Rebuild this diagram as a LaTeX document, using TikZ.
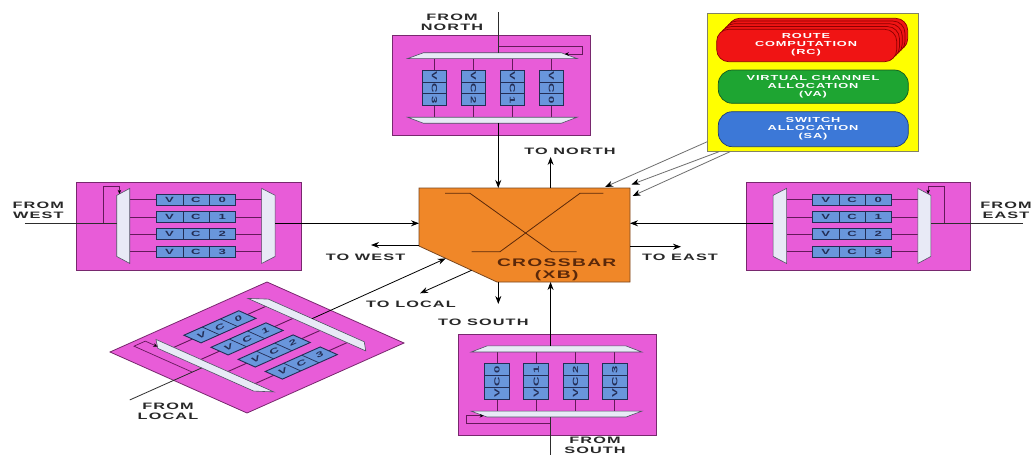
\documentclass[tikz,border=0pt]{standalone}
\usepackage{fontspec}
\usetikzlibrary{arrows.meta}
\newfontfamily\lblfont{Liberation Sans}[FakeStretch=1.75,LetterSpace=12]
\definecolor{pinkfill}{RGB}{232,92,216}
\definecolor{pinkedge}{RGB}{120,40,110}
\definecolor{rowcol}{RGB}{100,25,90}
\definecolor{vcfill}{RGB}{105,150,220}
\definecolor{vcedge}{RGB}{35,45,85}
\definecolor{muxfill}{RGB}{232,234,246}
\definecolor{muxedge}{RGB}{80,80,100}
\definecolor{mainc}{RGB}{45,45,45}
\definecolor{lblcol}{RGB}{40,40,40}
\definecolor{xbfill}{RGB}{240,135,40}
\definecolor{xbedge}{RGB}{120,70,30}
\definecolor{xbtext}{RGB}{90,40,10}
\definecolor{ybox}{RGB}{255,255,0}
\definecolor{yedge}{RGB}{130,130,100}
\definecolor{rcfill}{RGB}{240,20,20}
\definecolor{rcedge}{RGB}{140,0,0}
\definecolor{vafill}{RGB}{30,165,50}
\definecolor{vaedge}{RGB}{20,90,30}
\definecolor{safill}{RGB}{60,120,215}
\definecolor{saedge}{RGB}{30,60,120}
\definecolor{gline}{RGB}{110,110,110}
\tikzset{
 pinkblk/.style={fill=pinkfill, draw=pinkedge, line width=0.8pt},
 rowline/.style={draw=rowcol, line width=0.9pt},
 vcbox/.style={fill=vcfill, draw=vcedge, line width=0.9pt},
 mux/.style={fill=muxfill, draw=muxedge, line width=0.6pt},
 mainline/.style={draw=mainc, line width=0.8pt},
 fbline/.style={draw=rowcol, line width=0.7pt, -{Stealth[length=4pt,width=3.5pt,color=black]}},
 arr/.style={draw=black, line width=0.8pt, -{Stealth[length=8pt,width=6pt]}},
 garr/.style={draw=gline, line width=0.8pt, -{Stealth[length=8pt,width=6pt,color=black]}},
 lbl/.style={font=\lblfont\bfseries\fontsize{9.3}{10}\selectfont, text=lblcol, align=center, inner sep=0pt},
 xblbl/.style={font=\lblfont\bfseries\fontsize{11}{12.7}\selectfont, text=xbtext, align=center, inner sep=0pt},
 ylbl/.style={font=\lblfont\bfseries\fontsize{7.3}{8}\selectfont, text=white, align=center, inner sep=0pt},
 cell/.style={font=\lblfont\bfseries\fontsize{7.5}{8}\selectfont, text=vcedge, inner sep=0pt},
 xbar/.style={fill=xbfill, draw=xbedge, line width=0.8pt},
 xbline/.style={draw=xbtext, line width=0.8pt},
}
% #1 prefix, #2 frame, #3 text rotation, #4 u of V, #5 u of digit, #6 start u
\newcommand{\vcblk}[6]{%
\begin{scope}[#2]
 \path[pinkblk] (0,0) -- (1,0) -- (1,1) -- (0,1) -- cycle;
 \foreach \k in {0,1,2,3}{
   \pgfmathsetmacro{\vv}{0.195+0.198*\k}
   \pgfmathsetmacro{\va}{\vv-0.0625}
   \pgfmathsetmacro{\vb}{\vv+0.0625}
   \draw[rowline] (0.236,\vv) -- (0.822,\vv);
   \path[vcbox] (0.355,\va) -- (0.705,\va) -- (0.705,\vb) -- (0.355,\vb) -- cycle;
   \draw[vcedge, line width=0.7pt] (0.472,\va) -- (0.472,\vb) (0.588,\va) -- (0.588,\vb);
   \node[cell, rotate=#3] (#1-\k-v) at (#4,\vv) {V};
   \node[cell, rotate=#3] (#1-\k-c) at (0.53,\vv) {C};
   \node[cell, rotate=#3] (#1-\k-d) at (#5,\vv) {\k};
 }
 \path[mux] (0.178,0.145) -- (0.236,0.065) -- (0.236,0.925) -- (0.178,0.845) -- cycle;
 \path[mux] (0.822,0.065) -- (0.882,0.145) -- (0.882,0.845) -- (0.822,0.925) -- cycle;
 \draw[fbline] (0.118,0.465) -- (0.118,0.04) -- (0.19,0.04) -- (0.19,0.128);
 \coordinate (#1-start) at (#6,0.465);
 \coordinate (#1-min) at (0.178,0.465);
 \coordinate (#1-mout) at (0.882,0.465);
 \draw[mainline] (#1-start) -- (#1-min);
\end{scope}}
\begin{document}
\begin{tikzpicture}[x=1pt,y=1pt]
\useasboundingbox (0,0) rectangle (1031,-455);
\clip (0,0) rectangle (1031,-455);
\fill[white] (0,0) rectangle (1031,-455);

% blocks
\vcblk{w}{shift={(76.7pt,-182.7pt)}, x={(225pt,0pt)}, y={(0pt,-87.3pt)}}{0}{0.413}{0.647}{-0.23}
\vcblk{e}{shift={(970.7pt,-182.7pt)}, x={(-224pt,0pt)}, y={(0pt,-87.3pt)}}{0}{0.647}{0.413}{-0.233}
\vcblk{n}{shift={(590pt,-35pt)}, x={(0pt,-100pt)}, y={(-197.3pt,0pt)}}{-90}{0.413}{0.647}{-0.23}
\vcblk{s}{shift={(458.3pt,-435pt)}, x={(0pt,101pt)}, y={(198.4pt,0pt)}}{90}{0.413}{0.647}{-0.22}
\vcblk{l}{shift={(110pt,-352pt)}, x={(157pt,70pt)}, y={(137pt,-61pt)}}{24}{0.413}{0.647}{-0.28}

% crossbar
\path[xbar] (419,-188) -- (630,-188) -- (630,-282) -- (497,-282) -- (419,-246) -- cycle;
\draw[xbline] (445,-193.3) -- (470,-193.3) -- (551.7,-251.7) -- (576.7,-251.7);
\draw[xbline] (471.7,-251.7) -- (500,-251.7) -- (580,-193.3) -- (603.3,-193.3);
\node[xblbl] (xblabel) at (556.7,-269.7) {CROSSBAR\\(XB)};
\coordinate (xbtop) at (0,-188);
\coordinate (xbbot) at (0,-282);
\coordinate (xbleft) at (419,0);
\coordinate (xbright) at (630,0);
\coordinate (lhit) at (445.8,-258.4);

% inputs into crossbar
\draw[arr] (w-mout) -- (w-mout -| xbleft);
\draw[arr] (e-mout) -- (e-mout -| xbright);
\draw[arr] (n-mout) -- (n-mout |- xbtop);
\draw[arr] (s-mout) -- (s-mout |- xbbot);
\draw[arr] (l-mout) -- (lhit);

% outputs
\coordinate (tn0) at (550.6,-188); \coordinate (tn1) at (550.6,-157);
\coordinate (tw0) at (419,-245); \coordinate (tw1) at (371,-245);
\coordinate (te0) at (630,-246.7); \coordinate (te1) at (681,-246.7);
\coordinate (ts0) at (498.3,-282); \coordinate (ts1) at (498.3,-304);
\coordinate (tl0) at (471.6,-270.3); \coordinate (tl1) at (420,-293.3);
\draw[arr] (tn0) -- (tn1);
\draw[arr] (tw0) -- (tw1);
\draw[arr] (te0) -- (te1);
\draw[arr] (ts0) -- (ts1);
\draw[arr] (tl0) -- (tl1);

% labels
\node[lbl] (fromnorth) at (452,-22) {FROM\\NORTH};
\node[lbl] (tonorth) at (570,-151.7) {TO NORTH};
\node[lbl] (fromwest) at (38.3,-210) {FROM\\WEST};
\node[lbl] (towest) at (365.5,-257.3) {TO WEST};
\node[lbl] (tolocal) at (411,-304) {TO LOCAL};
\node[lbl] (tosouth) at (483.3,-322.7) {TO SOUTH};
\node[lbl] (toeast) at (680,-257.3) {TO EAST};
\node[lbl] (fromeast) at (1006,-210) {FROM\\EAST};
\node[lbl] (fromlocal) at (168,-411) {FROM\\LOCAL};
\node[lbl] (fromsouth) at (595,-445) {FROM\\SOUTH};

% control box
\path[fill=ybox, draw=yedge, line width=0.8pt] (707.3,-13.3) rectangle (918.3,-151.7);
\foreach \i in {4,3,2,1} {
  \path[fill=rcfill, draw=rcedge, line width=0.7pt, rounded corners=12pt]
    ({716.7+2.75*\i},{-61.7+2.75*\i}) rectangle ({896.7+2.75*\i},{-29.3+2.75*\i});
}
\path[fill=rcfill, draw=rcedge, line width=0.7pt, rounded corners=12pt] (716.7,-61.7) rectangle (896.7,-29.3);
\path[fill=vafill, draw=vaedge, line width=0.7pt, rounded corners=14pt] (718.3,-103.3) rectangle (908.3,-70);
\path[fill=safill, draw=saedge, line width=0.7pt, rounded corners=14pt] (718.3,-146.7) rectangle (908.3,-111.7);
\node[ylbl] (rc) at (806,-44.5) {ROUTE\\COMPUTATION\\(RC)};
\node[ylbl] (va) at (813,-87) {VIRTUAL CHANNEL\\ALLOCATION\\(VA)};
\node[ylbl] (sa) at (813,-128.7) {SWITCH\\ALLOCATION\\(SA)};
\coordinate (y1) at (707.3,-141.7); \coordinate (y2) at (719,-151.7); \coordinate (y3) at (730,-151.7);
\coordinate (x1) at (605,-187); \coordinate (x2) at (631.5,-184.5); \coordinate (x3) at (632.5,-196);
\draw[garr] (y1) -- (x1);
\draw[garr] (y2) -- (x2);
\draw[garr] (y3) -- (x3);
\end{tikzpicture}
\end{document}
